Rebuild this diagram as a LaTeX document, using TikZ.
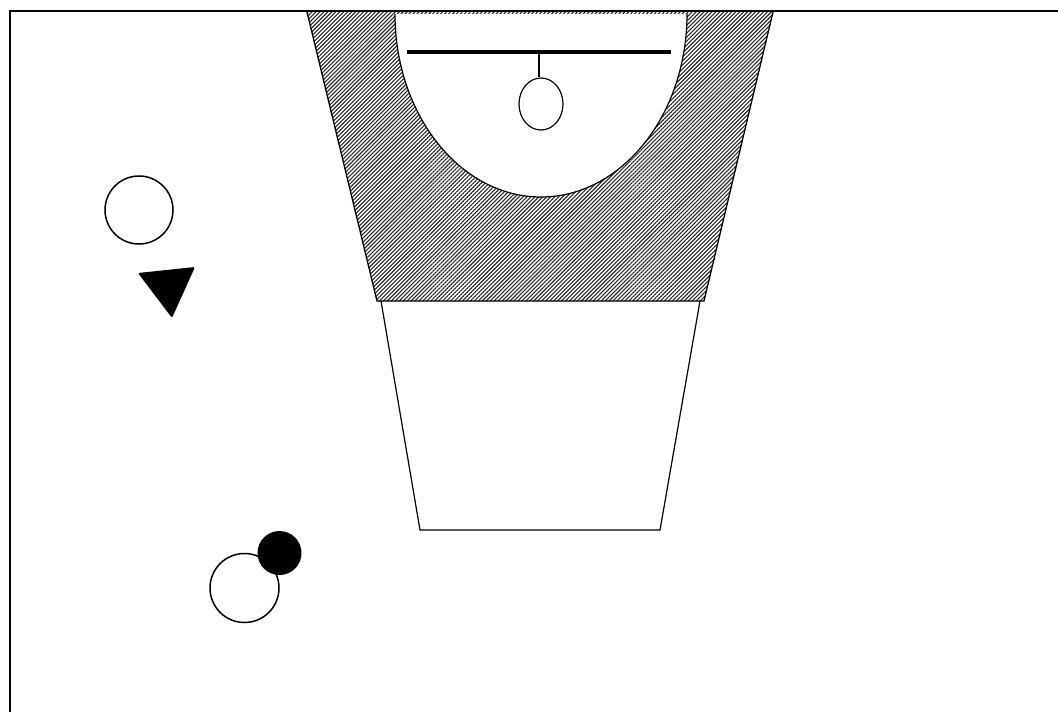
\documentclass[tikz,border=0pt]{standalone}
\usetikzlibrary{patterns.meta,shapes.geometric}
\begin{document}
\begin{tikzpicture}[x=1pt,y=-1pt,
  outline/.style={draw=black,line width=1.3pt},
  hatch/.style={pattern={Lines[angle=45,distance=2.8pt,line width=1.1pt]},pattern color=black!85},
  player/.style={circle,draw=black,line width=1.5pt,fill=white,inner sep=0pt,minimum size=#1},
  ball/.style={circle,fill=black,inner sep=0pt,minimum size=#1}]
\useasboundingbox (0,0) rectangle (1058,712);
% court border
\draw[line width=2.5pt] (1060,11) -- (10,11) -- (10,714);
% hatched key (upper)
\coordinate (kTL) at (307,12);
\coordinate (kTR) at (773,12);
\coordinate (kBR) at (704,301);
\coordinate (kBL) at (377,301);
\fill[hatch] (kTL) -- (kTR) -- (kBR) -- (kBL) -- cycle;
\draw[outline] (kTL) -- (kBL) -- (kBR) -- (kTR);
% white half ellipse
\coordinate (eL) at (395,14);
\fill[white] (eL) arc[start angle=180,end angle=0,x radius=146,y radius=183] -- cycle;
\draw[outline,line width=1.2pt] (eL) arc[start angle=180,end angle=0,x radius=146,y radius=183];
% lower trapezoid
\coordinate (lTL) at (381,301);
\coordinate (lTR) at (700,301);
\coordinate (lBR) at (660,530);
\coordinate (lBL) at (420,530);
\draw[outline,line width=1.2pt] (lTL) -- (lBL) -- (lBR) -- (lTR);
% backboard and rim
\coordinate (bbL) at (407,52);
\coordinate (bbR) at (671,52);
\coordinate (bbM) at (539,52);
\draw[line width=4pt] (bbL) -- (bbR);
\node[ellipse,draw=black,line width=1.2pt,inner sep=0pt,minimum width=44pt,minimum height=52pt] (rim) at (541,104) {};
\draw[line width=1.2pt] (bbM) -- (bbM |- rim.north);
% players
\node[player=68pt] (p1) at (139,210) {};
\fill[rounded corners=1.5pt] (138,273) -- (195,267) -- (172,318) -- cycle;
\node[player=69pt] (p2) at (244.5,588) {};
\node[ball=44pt] (b) at (279.5,553) {};
\end{tikzpicture}
\end{document}
